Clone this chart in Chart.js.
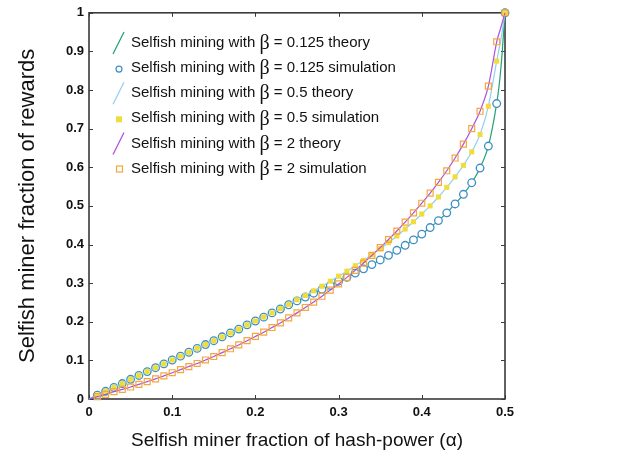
<!DOCTYPE html>
<html>
<head>
<meta charset="utf-8">
<script src="https://cdn.jsdelivr.net/npm/chart.js@4.4.0/dist/chart.umd.min.js"></script>
<style>
  html, body { margin: 0; padding: 0; background: #fff; }
</style>
</head>
<body>
<canvas id="miningChart" width="618" height="464"></canvas>
<script>
// === data ===
const alphaSim = [0.01, 0.02, 0.03, 0.04, 0.05, 0.06, 0.07, 0.08, 0.09, 0.10,
  0.11, 0.12, 0.13, 0.14, 0.15, 0.16, 0.17, 0.18, 0.19, 0.20,
  0.21, 0.22, 0.23, 0.24, 0.25, 0.26, 0.27, 0.28, 0.29, 0.30,
  0.31, 0.32, 0.33, 0.34, 0.35, 0.36, 0.37, 0.38, 0.39, 0.40,
  0.41, 0.42, 0.43, 0.44, 0.45, 0.46, 0.47, 0.48, 0.49, 0.50];

const simB0125 = [0.010, 0.020, 0.030, 0.040, 0.051, 0.061, 0.071, 0.081, 0.091, 0.101,
  0.111, 0.121, 0.131, 0.141, 0.151, 0.161, 0.171, 0.181, 0.192, 0.202,
  0.212, 0.223, 0.233, 0.244, 0.254, 0.264, 0.274, 0.284, 0.294, 0.305,
  0.315, 0.326, 0.337, 0.348, 0.360, 0.372, 0.385, 0.398, 0.412, 0.427,
  0.444, 0.462, 0.482, 0.505, 0.530, 0.560, 0.598, 0.655, 0.765, 1.0];

const simB05 = [0.010, 0.020, 0.030, 0.040, 0.051, 0.061, 0.071, 0.081, 0.091, 0.101,
  0.111, 0.121, 0.131, 0.141, 0.151, 0.161, 0.171, 0.181, 0.192, 0.202,
  0.212, 0.223, 0.234, 0.245, 0.257, 0.268, 0.280, 0.292, 0.305, 0.318,
  0.331, 0.345, 0.359, 0.374, 0.389, 0.405, 0.422, 0.440, 0.459, 0.479,
  0.500, 0.523, 0.548, 0.575, 0.605, 0.640, 0.685, 0.758, 0.875, 1.0];

const simB2 = [0.006, 0.012, 0.019, 0.025, 0.031, 0.038, 0.045, 0.052, 0.060, 0.068,
  0.076, 0.084, 0.092, 0.101, 0.110, 0.120, 0.130, 0.140, 0.151, 0.162,
  0.173, 0.185, 0.197, 0.210, 0.223, 0.237, 0.251, 0.266, 0.282, 0.298,
  0.315, 0.333, 0.352, 0.372, 0.392, 0.413, 0.435, 0.458, 0.482, 0.507,
  0.533, 0.561, 0.591, 0.624, 0.660, 0.700, 0.745, 0.810, 0.925, 1.0];

const alphaTheory = [0, 0.01, 0.02, 0.03, 0.04, 0.05, 0.06, 0.07, 0.08, 0.09, 0.10,
  0.11, 0.12, 0.13, 0.14, 0.15, 0.16, 0.17, 0.18, 0.19, 0.20,
  0.21, 0.22, 0.23, 0.24, 0.25, 0.26, 0.27, 0.28, 0.29, 0.30,
  0.31, 0.32, 0.33, 0.34, 0.35, 0.36, 0.37, 0.38, 0.39, 0.40,
  0.41, 0.42, 0.43, 0.44, 0.45, 0.46, 0.47, 0.48, 0.49, 0.495, 0.50];

const theoryB0125 = [0, 0.010, 0.020, 0.030, 0.040, 0.051, 0.061, 0.071, 0.081, 0.091, 0.101,
  0.111, 0.121, 0.131, 0.141, 0.151, 0.161, 0.171, 0.181, 0.192, 0.202,
  0.212, 0.223, 0.233, 0.244, 0.254, 0.264, 0.274, 0.284, 0.294, 0.305,
  0.315, 0.326, 0.337, 0.348, 0.360, 0.372, 0.385, 0.398, 0.412, 0.427,
  0.444, 0.462, 0.482, 0.505, 0.530, 0.560, 0.598, 0.655, 0.765, 0.855, 1.0];

const theoryB05 = [0, 0.010, 0.020, 0.030, 0.040, 0.051, 0.061, 0.071, 0.081, 0.091, 0.101,
  0.111, 0.121, 0.131, 0.141, 0.151, 0.161, 0.171, 0.181, 0.192, 0.202,
  0.212, 0.223, 0.234, 0.245, 0.257, 0.268, 0.280, 0.292, 0.305, 0.318,
  0.331, 0.345, 0.359, 0.374, 0.389, 0.405, 0.422, 0.440, 0.459, 0.479,
  0.500, 0.523, 0.548, 0.575, 0.605, 0.640, 0.685, 0.758, 0.875, 0.930, 1.0];

const theoryB2 = [0, 0.006, 0.012, 0.019, 0.025, 0.031, 0.038, 0.045, 0.052, 0.060, 0.068,
  0.076, 0.084, 0.092, 0.101, 0.110, 0.120, 0.130, 0.140, 0.151, 0.162,
  0.173, 0.185, 0.197, 0.210, 0.223, 0.237, 0.251, 0.266, 0.282, 0.298,
  0.315, 0.333, 0.352, 0.372, 0.392, 0.413, 0.435, 0.458, 0.482, 0.507,
  0.533, 0.561, 0.591, 0.624, 0.660, 0.700, 0.745, 0.810, 0.925, 0.962, 1.0];

const xTicks = [0, 0.1, 0.2, 0.3, 0.4, 0.5];
const yTicks = [0, 0.1, 0.2, 0.3, 0.4, 0.5, 0.6, 0.7, 0.8, 0.9, 1];

const betaValues = ["0.125", "0.125", "0.5", "0.5", "2", "2"];
const legendKinds = ["theory", "simulation", "theory", "simulation", "theory", "simulation"];

const GREEN = "#22a07a", BLUE = "#3d8ec6", LIGHTBLUE = "#92cff0";
const YELLOW = "#f0dd3c", PURPLE = "#ad4fe0", ORANGE = "#f4a83c";

const pts = (xs, ys) => xs.map((x, i) => ({ x, y: ys[i] }));

const fmt = v => String(Math.round(v * 10) / 10);

// frame with inward ticks on all four sides, plus the legend inside the plot
const framePlugin = {
  id: "frame",
  beforeDatasetsDraw(chart) {
    const { ctx, chartArea: a, scales } = chart;
    ctx.save();
    ctx.strokeStyle = "#3a3a3a";
    ctx.lineWidth = 1.6;
    ctx.strokeRect(a.left, a.top, a.right - a.left, a.bottom - a.top);
    ctx.lineWidth = 1;
    ctx.beginPath();
    xTicks.forEach(v => {
      const px = Math.round(scales.x.getPixelForValue(v)) + 0.5;
      ctx.moveTo(px, a.bottom); ctx.lineTo(px, a.bottom - 4);
      ctx.moveTo(px, a.top); ctx.lineTo(px, a.top + 4);
    });
    yTicks.forEach(v => {
      const py = Math.round(scales.y.getPixelForValue(v)) + 0.5;
      ctx.moveTo(a.left, py); ctx.lineTo(a.left + 4, py);
      ctx.moveTo(a.right, py); ctx.lineTo(a.right - 4, py);
    });
    ctx.stroke();
    ctx.restore();
  },
  afterDraw(chart) {
    const ctx = chart.ctx;
    const colors = [GREEN, BLUE, LIGHTBLUE, YELLOW, PURPLE, ORANGE];
    ctx.save();
    ctx.textBaseline = "middle";
    betaValues.forEach((b, i) => {
      const cy = 43 + 25.1 * i;
      const c = colors[i];
      if (legendKinds[i] === "theory") {
        ctx.strokeStyle = c; ctx.lineWidth = 1.2;
        ctx.beginPath(); ctx.moveTo(113, cy + 11); ctx.lineTo(124, cy - 11); ctx.stroke();
      } else if (i === 1) {
        ctx.strokeStyle = c; ctx.lineWidth = 1.2; ctx.fillStyle = "#fff";
        ctx.beginPath(); ctx.arc(119, cy + 1, 3, 0, Math.PI * 2); ctx.fill(); ctx.stroke();
      } else if (i === 3) {
        ctx.fillStyle = c; ctx.fillRect(116, cy - 2, 6, 6);
      } else {
        ctx.strokeStyle = c; ctx.lineWidth = 1.2;
        ctx.strokeRect(116.5, cy - 2.5, 6, 6);
      }
      let x = 131;
      ctx.fillStyle = "#111";
      ctx.font = "15px 'Liberation Sans', Arial, sans-serif";
      const s1 = "Selfish mining with ";
      ctx.fillText(s1, x, cy);
      x += ctx.measureText(s1).width;
      ctx.font = "20px 'Liberation Serif', serif";
      ctx.fillText("β", x, cy + 1);
      x += ctx.measureText("β").width;
      ctx.font = "15px 'Liberation Sans', Arial, sans-serif";
      ctx.fillText(" = " + b + " " + legendKinds[i], x, cy);
    });
    ctx.restore();
  }
};

const tickFont = { family: "'Liberation Sans', Arial, sans-serif", size: 13, weight: "bold" };
const yTitleFont = { family: "'Liberation Sans', Arial, sans-serif", size: 22 };
const xTitleFont = { family: "'Liberation Sans', Arial, sans-serif", size: 19 };

const styles = [
  { borderColor: GREEN, borderWidth: 1.2, pointRadius: 0, tension: 0.3 },
  { showLine: false, pointStyle: "circle", pointRadius: 3.8, borderWidth: 1.3, borderColor: BLUE, backgroundColor: "#fff" },
  { borderColor: LIGHTBLUE, borderWidth: 1.2, pointRadius: 0, tension: 0.3 },
  { showLine: false, pointStyle: "rect", pointRadius: 3.6, borderWidth: 0, borderColor: YELLOW, backgroundColor: YELLOW },
  { borderColor: PURPLE, borderWidth: 1.2, pointRadius: 0, tension: 0.3 },
  { showLine: false, pointStyle: "rect", pointRadius: 4.2, borderWidth: 1.2, borderColor: ORANGE, backgroundColor: "rgba(0,0,0,0)" }
];
const series = [
  pts(alphaTheory, theoryB0125), pts(alphaSim, simB0125),
  pts(alphaTheory, theoryB05), pts(alphaSim, simB05),
  pts(alphaTheory, theoryB2), pts(alphaSim, simB2)
];

new Chart(document.getElementById("miningChart"), {
  type: "line",
  data: {
    // later series are painted on top, as in the original figure
    datasets: series.map((data, i) => Object.assign({ data, order: 10 - i, clip: false, fill: false }, styles[i]))
  },
  options: {
    responsive: false,
    animation: false,
    devicePixelRatio: 1,
    layout: { padding: { top: 9, right: 113, left: 0, bottom: 0 } },
    plugins: { legend: { display: false }, tooltip: { enabled: false } },
    scales: {
      x: {
        type: "linear", min: 0, max: 0.5,
        afterBuildTicks: s => { s.ticks = xTicks.map(v => ({ value: v })); },
        afterFit: s => { s.height = 65; },
        grid: { display: false, drawTicks: false },
        border: { display: false },
        ticks: { color: "#111", font: tickFont, padding: 6, maxRotation: 0, callback: v => fmt(v) },
        title: { display: true, text: "Selfish miner fraction of hash-power (α)", color: "#111", font: xTitleFont, padding: { top: 12, bottom: 12 } }
      },
      y: {
        type: "linear", min: 0, max: 1,
        afterBuildTicks: s => { s.ticks = yTicks.map(v => ({ value: v })); },
        afterFit: s => { s.width = 89; },
        grid: { display: false, drawTicks: false },
        border: { display: false },
        ticks: { color: "#111", font: tickFont, padding: 5, callback: v => fmt(v) },
        title: { display: true, text: "Selfish miner fraction of rewards", color: "#111", font: yTitleFont, padding: { top: 15, bottom: 15 } }
      }
    }
  },
  plugins: [framePlugin]
});
</script>
</body>
</html>
